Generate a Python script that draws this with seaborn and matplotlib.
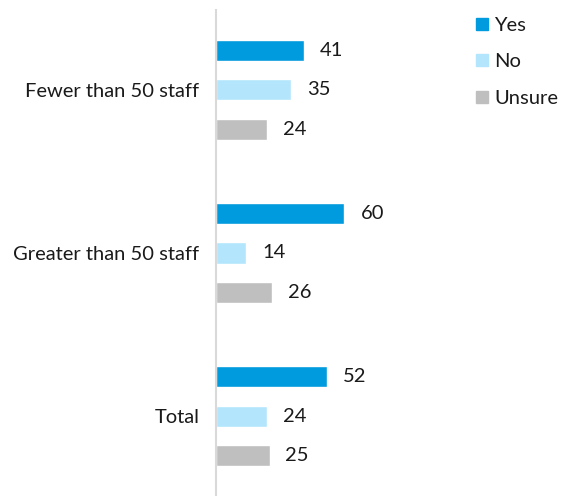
import matplotlib
matplotlib.use("Agg")
import matplotlib.pyplot as plt
import seaborn as sns
import pandas as pd
from matplotlib.lines import Line2D

categories = ["Fewer than 50 staff", "Greater than 50 staff", "Total"]
responses = ["Yes", "No", "Unsure"]
yes_values = [41, 60, 52]
no_values = [35, 14, 24]
unsure_values = [24, 26, 25]
colors = ["#009ADE", "#B3E5FC", "#BFBFBF"]

rows = []
for cat, y, n, u in zip(categories, yes_values, no_values, unsure_values):
    rows += [(cat, "Yes", y), (cat, "No", n), (cat, "Unsure", u)]
df = pd.DataFrame(rows, columns=["category", "response", "value"])

sns.set_theme(style="white")
plt.rcParams["font.family"] = ["Lato", "DejaVu Sans"]

fig = plt.figure(figsize=(5.71, 4.96), dpi=100)
ax = fig.add_axes([216 / 571, 0.0, (560 - 216) / 571, 486 / 496])

sns.barplot(data=df, y="category", x="value", hue="response", order=categories,
            hue_order=responses, palette=colors, orient="h", width=0.73, gap=0.47,
            saturation=1, legend=False, ax=ax)

for cont in ax.containers:
    ax.bar_label(cont, fmt="%d", padding=11.5, fontsize=14.5, color="#1a1a1a")

ax.set_xlim(0, 160.7)
ax.set_ylim(2.49, -0.49)
ax.set_xlabel("")
ax.set_ylabel("")
ax.xaxis.set_visible(False)
for s in ["top", "right", "bottom"]:
    ax.spines[s].set_visible(False)
ax.spines["left"].set_color("#D9D9D9")
ax.spines["left"].set_linewidth(1.5)
ax.tick_params(axis="y", length=0, pad=12, labelsize=14.5, labelcolor="#1a1a1a")

handles = [Line2D([0], [0], marker="s", linestyle="", markersize=8,
                  markerfacecolor=c, markeredgecolor=c) for c in colors]
fig.legend(handles, responses, loc="upper left", bbox_to_anchor=(468 / 571, 1 - 9 / 496),
           frameon=False, fontsize=14.5, handlelength=0.6,
           handletextpad=0.3, labelspacing=0.95, labelcolor="#1a1a1a", borderaxespad=0)

fig.savefig("out.png", dpi=100)
